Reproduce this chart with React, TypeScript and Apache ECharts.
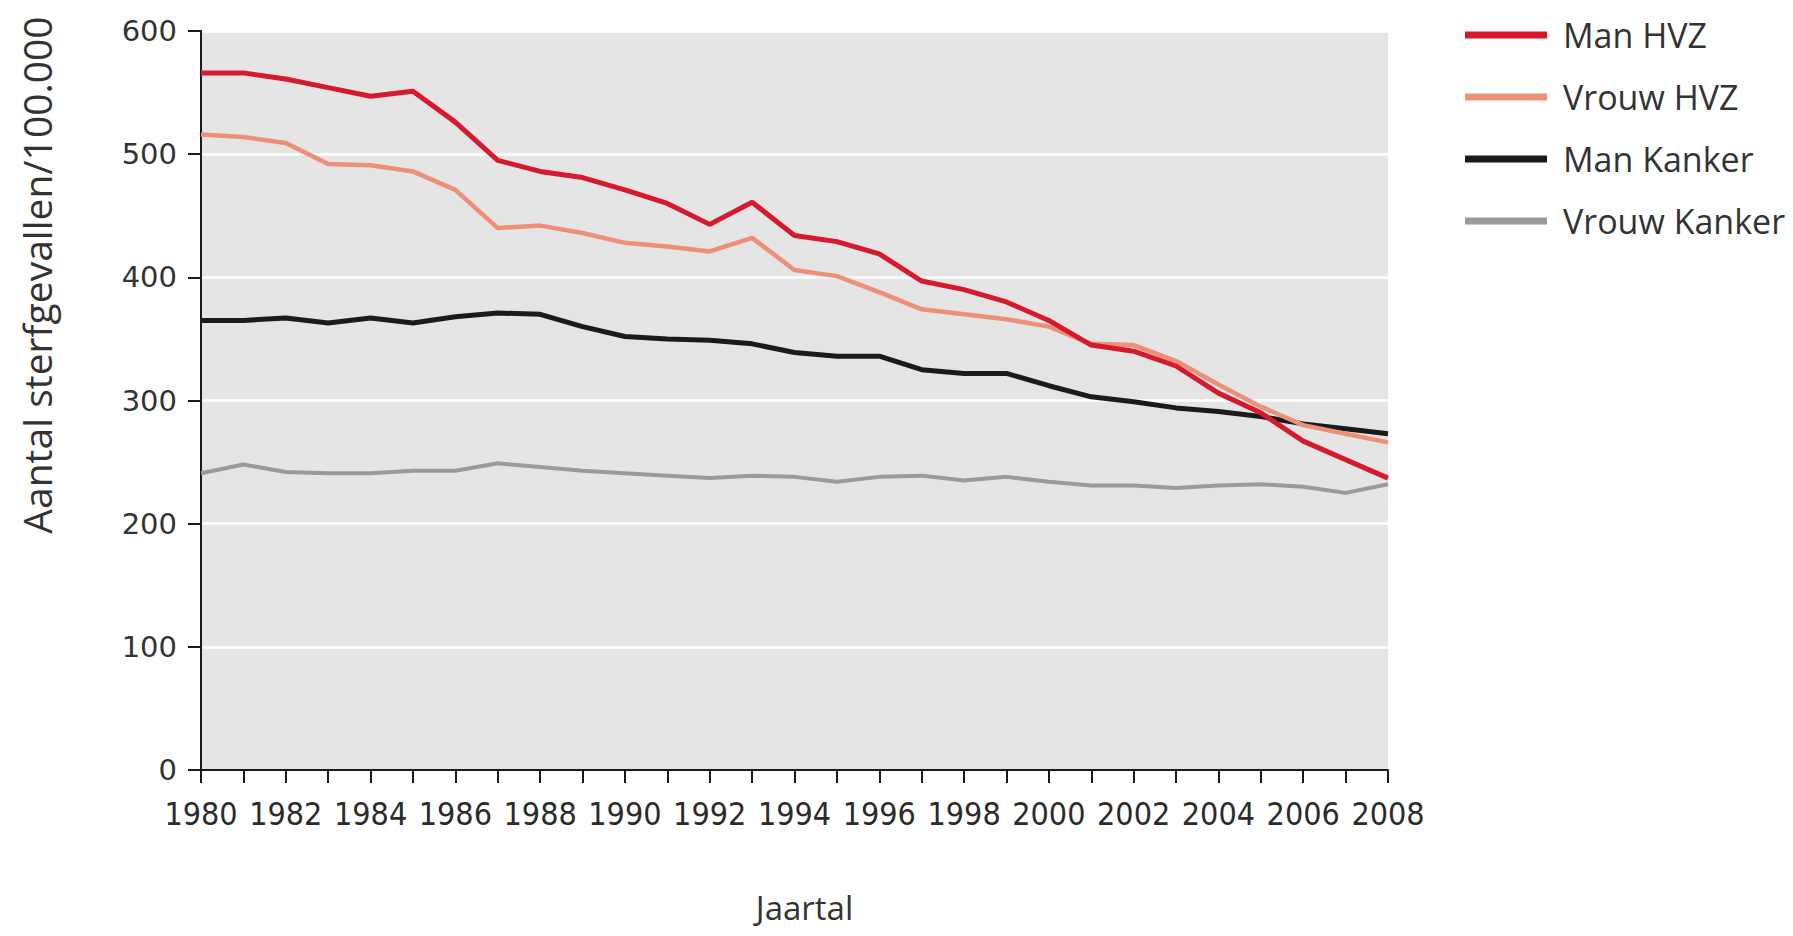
import React, { useEffect, useRef } from "react";
import * as echarts from "echarts";

const years = [
  "1980", "1981", "1982", "1983", "1984", "1985", "1986", "1987", "1988", "1989",
  "1990", "1991", "1992", "1993", "1994", "1995", "1996", "1997", "1998", "1999",
  "2000", "2001", "2002", "2003", "2004", "2005", "2006", "2007", "2008",
];

const manHVZ = [
  566, 566, 561, 554, 547, 551, 526, 495, 486, 481,
  471, 460, 443, 461, 434, 429, 419, 397, 390, 380,
  365, 345, 340, 328, 306, 290, 267, 252, 237,
];

const vrouwHVZ = [
  516, 514, 509, 492, 491, 486, 471, 440, 442, 436,
  428, 425, 421, 432, 406, 401, 388, 374, 370, 366,
  360, 346, 345, 332, 313, 295, 280, 273, 266,
];

const manKanker = [
  365, 365, 367, 363, 367, 363, 368, 371, 370, 360,
  352, 350, 349, 346, 339, 336, 336, 325, 322, 322,
  312, 303, 299, 294, 291, 287, 281, 277, 273,
];

const vrouwKanker = [
  241, 248, 242, 241, 241, 243, 243, 249, 246, 243,
  241, 239, 237, 239, 238, 234, 238, 239, 235, 238,
  234, 231, 231, 229, 231, 232, 230, 225, 232,
];

const seriesNames = ["Man HVZ", "Vrouw HVZ", "Man Kanker", "Vrouw Kanker"];
const seriesColors = ["#d7192d", "#ee8f78", "#1a1a1a", "#9a9a9a"];
const seriesWidths = [5, 4.5, 5, 4];
const yTitle = "Aantal sterfgevallen/100.000";
const xTitle = "Jaartal";

export default function App() {
  const ref = useRef<HTMLDivElement>(null);
  useEffect(() => {
    if (!ref.current) return;
    const chart = echarts.init(ref.current, undefined, { renderer: "svg" });
    const data = [manHVZ, vrouwHVZ, manKanker, vrouwKanker];
    const order = [3, 2, 1, 0];
    chart.setOption({
      animation: false,
      backgroundColor: "#ffffff",
      grid: {
        left: 201,
        right: 405,
        top: 31,
        bottom: 166,
        show: true,
        backgroundColor: "#e5e5e5",
        borderWidth: 0,
        containLabel: false,
        outerBoundsMode: "none",
      },
      legend: {
        orient: "vertical",
        left: 1460,
        top: 10,
        icon: "rect",
        itemWidth: 82,
        itemHeight: 7,
        itemGap: 22,
        data: seriesNames,
        textStyle: {
          fontFamily: "Open Sans",
          fontSize: 34,
          color: "#333333",
          lineHeight: 40,
          padding: [0, 0, 0, 11],
        },
      },
      xAxis: {
        type: "category",
        data: years,
        boundaryGap: false,
        name: xTitle,
        nameLocation: "middle",
        nameGap: 120,
        nameTextStyle: {
          fontFamily: "Open Sans",
          fontSize: 33,
          lineHeight: 34,
          color: "#333333",
          padding: [0, 0, 0, 20],
        },
        axisLine: { show: true, lineStyle: { color: "#1a1a1a", width: 2 } },
        axisTick: {
          show: true,
          interval: 0,
          length: 13,
          lineStyle: { color: "#1a1a1a", width: 2 },
        },
        axisLabel: {
          interval: 1,
          margin: 28,
          fontFamily: "'DejaVu Sans Condensed', sans-serif",
          fontSize: 32,
          color: "#2b2b2b",
        },
        splitLine: { show: false },
      },
      yAxis: {
        type: "value",
        min: 0,
        max: 600,
        interval: 100,
        axisLine: { show: true, lineStyle: { color: "#1a1a1a", width: 2 } },
        axisTick: { show: true, length: 13, lineStyle: { color: "#1a1a1a", width: 2 } },
        axisLabel: {
          margin: 24,
          fontFamily: "'DejaVu Sans', sans-serif",
          fontSize: 29,
          color: "#333333",
        },
        splitLine: { show: true, lineStyle: { color: "#ffffff", width: 2.5 } },
      },
      graphic: [
        {
          type: "text",
          x: 36,
          y: 275,
          rotation: Math.PI / 2,
          style: {
            text: yTitle,
            fontFamily: "Open Sans",
            fontSize: 39,
            fill: "#333333",
            textAlign: "center",
            textVerticalAlign: "middle",
          },
        },
      ],
      series: order.map((i) => ({
        name: seriesNames[i],
        type: "line",
        data: data[i],
        symbol: "none",
        smooth: false,
        lineStyle: { color: seriesColors[i], width: seriesWidths[i] },
        itemStyle: { color: seriesColors[i] },
        z: 10 - i,
      })),
    });
    return () => chart.dispose();
  }, []);
  return (
    <div
      ref={ref}
      style={{ position: "fixed", left: 0, top: 0, width: 1793, height: 936 }}
    />
  );
}
